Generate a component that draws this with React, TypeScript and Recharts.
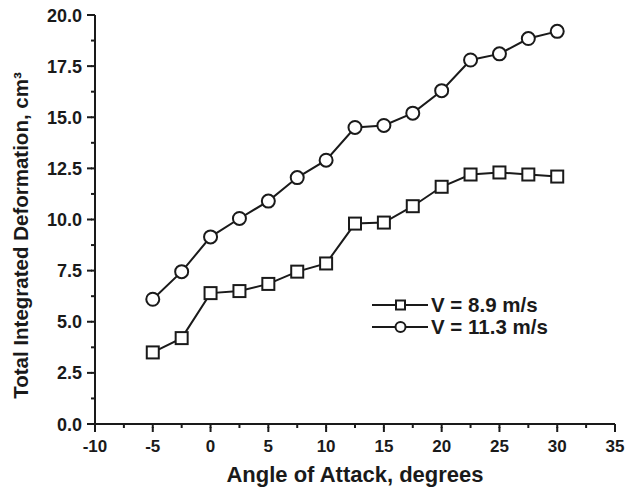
import React from 'react';
import { LineChart, Line, XAxis, YAxis, Label } from 'recharts';

const angles = [-5, -2.5, 0, 2.5, 5, 7.5, 10, 12.5, 15, 17.5, 20, 22.5, 25, 27.5, 30];
const v89 = [3.5, 4.2, 6.4, 6.5, 6.85, 7.45, 7.85, 9.8, 9.85, 10.65, 11.6, 12.2, 12.3, 12.2, 12.1];
const v113 = [6.1, 7.45, 9.15, 10.05, 10.9, 12.05, 12.9, 14.5, 14.6, 15.2, 16.3, 17.8, 18.1, 18.85, 19.2];
const xTicks = [-10, -7.5, -5, -2.5, 0, 2.5, 5, 7.5, 10, 12.5, 15, 17.5, 20, 22.5, 25, 27.5, 30, 32.5, 35];
const yTicks = [0, 1.25, 2.5, 3.75, 5, 6.25, 7.5, 8.75, 10, 11.25, 12.5, 13.75, 15, 16.25, 17.5, 18.75, 20];
const seriesNames = ['V = 8.9 m/s', 'V = 11.3 m/s'];

const data = angles.map((a, i) => ({ angle: a, v89: v89[i], v113: v113[i] }));

const FONT = '"Liberation Sans", Arial, sans-serif';
const INK = '#1a1a1a';
const MINOR = 4; // built-in tick line length (minor ticks)
const EXTRA = 4; // extra length added to major ticks

// major tick if value is a multiple of `step`
const onStep = (v: number, step: number) => Math.abs(v / step - Math.round(v / step)) < 1e-6;

function XTick(props: any) {
  const x = Number(props.x);
  const y = Number(props.y);
  const v = props.payload.value;
  const major = onStep(v, 5);
  if (!major) return <g />;
  return (
    <g>
      <line x1={x} y1={y - 1} x2={x} y2={y + EXTRA} stroke={INK} strokeWidth={2} />
      <text x={x} y={y + 24} textAnchor="middle" fontFamily={FONT} fontWeight="bold" fontSize={17} fill={INK}>
        {v}
      </text>
    </g>
  );
}

function YTick(props: any) {
  const x = Number(props.x);
  const y = Number(props.y);
  const v = props.payload.value;
  const major = onStep(v, 2.5);
  if (!major) return <g />;
  return (
    <g>
      <line x1={x + 1} y1={y} x2={x - EXTRA} y2={y} stroke={INK} strokeWidth={2} />
      <text x={x - 9} y={y + 6.5} textAnchor="end" fontFamily={FONT} fontWeight="bold" fontSize={18} fill={INK}>
        {v.toFixed(1)}
      </text>
    </g>
  );
}

function SquareDot({ cx, cy, index }: any) {
  return <rect key={`sq-${index}`} x={cx - 6} y={cy - 6} width={12} height={12} fill="#fff" stroke={INK} strokeWidth={2} />;
}

function CircleDot({ cx, cy, index }: any) {
  return <circle key={`ci-${index}`} cx={cx} cy={cy} r={6.5} fill="#fff" stroke={INK} strokeWidth={2} />;
}

function LegendBox() {
  return (
    <div
      style={{
        position: 'absolute',
        left: 372,
        top: 294,
        fontFamily: FONT,
        fontWeight: 'bold',
        fontSize: 20.5,
        color: INK,
        lineHeight: '22px',
      }}
    >
      {seriesNames.map((name, i) => (
        <div key={name} style={{ display: 'flex', alignItems: 'center' }}>
          <svg width={58} height={22}>
            <line x1={0} y1={11} x2={56} y2={11} stroke={INK} strokeWidth={2} />
            {i === 0 ? (
              <rect x={24} y={6.5} width={9} height={9} fill="#fff" stroke={INK} strokeWidth={2} />
            ) : (
              <circle cx={28.5} cy={11} r={5} fill="#fff" stroke={INK} strokeWidth={2} />
            )}
          </svg>
          <span style={{ marginLeft: 1 }}>{name}</span>
        </div>
      ))}
    </div>
  );
}

export default function App() {
  return (
    <div style={{ position: 'absolute', left: 0, top: 0, width: 625, height: 493, background: '#fff' }}>
      <LineChart width={625} height={493} data={data} margin={{ top: 15, right: 10, left: 0, bottom: 0 }}>
        <XAxis
          dataKey="angle"
          type="number"
          domain={[-10, 35]}
          ticks={xTicks}
          interval={0}
          height={69}
          tickSize={MINOR}
          tickMargin={0}
          tickLine={{ stroke: INK, strokeWidth: 2 }}
          tick={(p: any) => <XTick {...p} />}
          axisLine={{ stroke: INK, strokeWidth: 2 }}
        >
          <Label
            content={({ viewBox }: any) => (
              <text
                x={viewBox.x + viewBox.width / 2}
                y={viewBox.y + 58}
                textAnchor="middle"
                fontFamily={FONT}
                fontWeight="bold"
                fontSize={22}
                fill={INK}
              >
                Angle of Attack, degrees
              </text>
            )}
          />
        </XAxis>
        <YAxis
          type="number"
          domain={[0, 20]}
          ticks={yTicks}
          interval={0}
          width={95}
          tickSize={MINOR}
          tickMargin={0}
          tickLine={{ stroke: INK, strokeWidth: 2 }}
          tick={(p: any) => <YTick {...p} />}
          axisLine={{ stroke: INK, strokeWidth: 2 }}
        >
          <Label
            content={({ viewBox }: any) => {
              const cx = 28;
              const cy = viewBox.y + viewBox.height / 2 + 16;
              return (
                <text
                  x={cx}
                  y={cy}
                  transform={`rotate(-90 ${cx} ${cy})`}
                  textAnchor="middle"
                  fontFamily={FONT}
                  fontWeight="bold"
                  fontSize={20.5}
                  fill={INK}
                >
                  Total Integrated Deformation, cm³
                </text>
              );
            }}
          />
        </YAxis>
        <Line
          dataKey="v89"
          name={seriesNames[0]}
          stroke={INK}
          strokeWidth={2}
          dot={<SquareDot />}
          isAnimationActive={false}
        />
        <Line
          dataKey="v113"
          name={seriesNames[1]}
          stroke={INK}
          strokeWidth={2}
          dot={<CircleDot />}
          isAnimationActive={false}
        />
      </LineChart>
      <LegendBox />
    </div>
  );
}
